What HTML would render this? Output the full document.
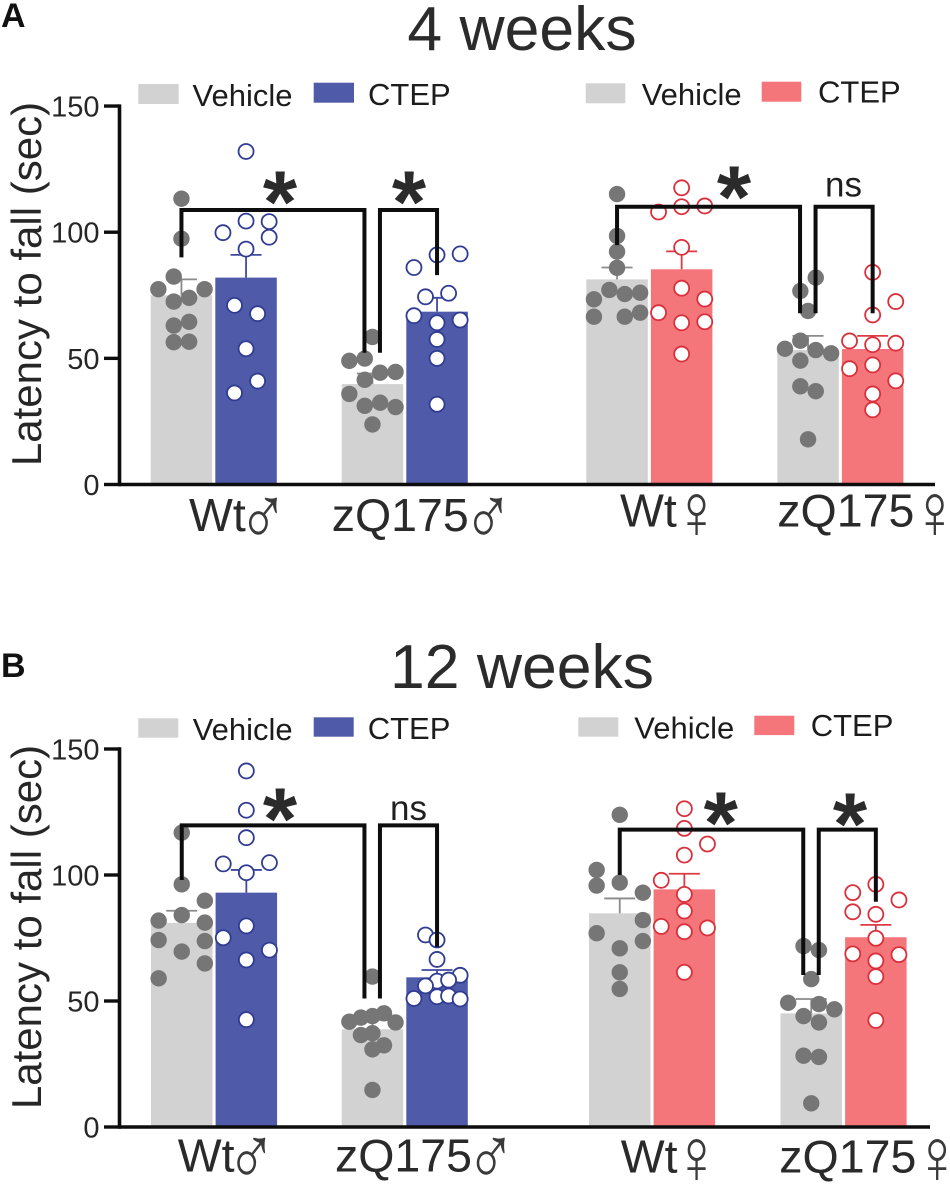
<!DOCTYPE html>
<html lang="en">
<head>
<meta charset="utf-8">
<title>Latency to fall at 4 and 12 weeks</title>
<style>
html,body{margin:0;padding:0;background:#fff;width:950px;height:1185px;overflow:hidden}
svg{display:block;filter:blur(0.35px)}
text{font-family:"Liberation Sans",Arial,sans-serif;fill:#262626}
.title{font-size:62.5px;text-anchor:middle;fill:#2b2b2b}
.legend{font-size:31px;fill:#1c1c1c}
.cat{font-size:46.5px;fill:#2a2a2a}
.sym{font-size:46px;fill:#3a3a3a}
.star{font-size:88px;font-weight:bold;text-anchor:middle;fill:#2b2b2b}
.ns{font-size:35px;fill:#1f1f1f}
.letter{font-size:34px;font-weight:bold;fill:#111}
.tick{font-size:29px;text-anchor:end;fill:#262626}
.ytitle{font-size:42px;text-anchor:middle;fill:#262626}
</style>
</head>
<body>
<svg id="figure" xmlns="http://www.w3.org/2000/svg" width="950" height="1185" viewBox="0 0 950 1185">
  <rect width="950" height="1185" fill="#fff"/>

  <g>
    <text class="letter" x="1" y="27">A</text>
    <text class="title" x="522" y="50">4 weeks</text>
    <text class="ytitle" transform="translate(41,284) rotate(-90)">Latency to fall (sec)</text>
    <rect x="138.3" y="84" width="40.4" height="20" fill="#d2d2d2"/>
    <text class="legend" x="192.5" y="106">Vehicle</text>
    <rect x="313.7" y="82.7" width="40.3" height="20" fill="#4f5aa9"/>
    <text class="legend" x="368" y="105">CTEP</text>
    <rect x="585.7" y="83.3" width="39.6" height="20" fill="#d2d2d2"/>
    <text class="legend" x="641.7" y="105">Vehicle</text>
    <rect x="761.7" y="81.7" width="39.6" height="20" fill="#f4757a"/>
    <text class="legend" x="818" y="102.7">CTEP</text>
    <text class="cat" x="189" y="531">Wt</text>
    <text class="sym" transform="translate(238,545) scale(1.45,1.83)">♂</text>
    <text class="cat" x="331.7" y="531">zQ175</text>
    <text class="sym" transform="translate(463,545) scale(1.45,1.83)">♂</text>
    <text class="cat" x="620" y="526.7">Wt</text>
    <text class="sym" transform="translate(672.7,538) scale(1.38,1.7)">♀</text>
    <text class="cat" x="777.3" y="526.7">zQ175</text>
    <text class="sym" transform="translate(911,538) scale(1.38,1.7)">♀</text>
  </g>

  <g>
    <text class="letter" x="1" y="677">B</text>
    <text class="title" x="522" y="688">12 weeks</text>
    <text class="ytitle" transform="translate(41,927) rotate(-90)">Latency to fall (sec)</text>
    <rect x="138.3" y="718.3" width="40" height="19.4" fill="#d2d2d2"/>
    <text class="legend" x="192.7" y="740">Vehicle</text>
    <rect x="313.7" y="717.3" width="40" height="19.4" fill="#4f5aa9"/>
    <text class="legend" x="367.7" y="739">CTEP</text>
    <rect x="578.3" y="717.3" width="40" height="19.4" fill="#d2d2d2"/>
    <text class="legend" x="634.3" y="738.3">Vehicle</text>
    <rect x="754.3" y="715.7" width="40" height="19.4" fill="#f4757a"/>
    <text class="legend" x="810.7" y="736">CTEP</text>
    <text class="cat" x="177.7" y="1171.7">Wt</text>
    <text class="sym" transform="translate(226.2,1185) scale(1.45,1.83)">♂</text>
    <text class="cat" x="335" y="1171.7">zQ175</text>
    <text class="sym" transform="translate(465.7,1185) scale(1.45,1.83)">♂</text>
    <text class="cat" x="620.7" y="1172.3">Wt</text>
    <text class="sym" transform="translate(672.7,1183) scale(1.38,1.7)">♀</text>
    <text class="cat" x="779.3" y="1172.3">zQ175</text>
    <text class="sym" transform="translate(913.4,1183) scale(1.38,1.7)">♀</text>
  </g>

  <g id="marks-a"></g>
  <g id="marks-b"></g>

  <g>
    <text class="star" x="280" y="232">*</text>
    <text class="star" x="409" y="232">*</text>
    <text class="star" x="734" y="227">*</text>
    <text class="ns" x="825" y="196.7">ns</text>
    <text class="star" x="280" y="849">*</text>
    <text class="ns" x="390" y="820">ns</text>
    <text class="star" x="720.7" y="853">*</text>
    <text class="star" x="850" y="854">*</text>
  </g>
</svg>

<script>
// ---- chart data ----
const seriesNames = ['vehicle', 'ctep'];
const barNames = ['wt-male-vehicle', 'wt-male-ctep', 'zq175-male-vehicle', 'zq175-male-ctep', 'wt-female-vehicle', 'wt-female-ctep', 'zq175-female-vehicle', 'zq175-female-ctep'];
const yTicks = [0, 50, 100, 150];
const yTickLabels = ['0', '50', '100', '150'];

const week4Means = [75, 82, 39.8, 68.5, 81.3, 85.3, 53.3, 53.7];
const week4ErrorTops = [81.3, 91, 44, 74, 86, 92.4, 58.9, 58.9];
const week4Points = [
  [113.3, 97.4, 82.4, 77.4, 77.4, 74, 72.5, 64.5, 63, 56.6, 56.4],
  [132, 104.4, 104.2, 99.8, 98, 93.3, 71, 67.7, 53.8, 41, 36.3],
  [58.5, 49, 49.9, 44.3, 44.6, 41.5, 35.9, 31.2, 32.4, 30.7, 23.8],
  [91, 91.4, 86, 74.4, 75.8, 66.9, 65.2, 64.1, 57.5, 50, 31.8],
  [115.1, 98.5, 92.3, 85.9, 77.1, 75.5, 76, 73.4, 66.5, 66.5, 68.1],
  [117.6, 110.1, 110.4, 108, 94, 77.8, 73.5, 68.1, 64.1, 64.5, 51.7],
  [82, 76.7, 68.8, 57, 53.8, 53.3, 52, 49.1, 38.9, 37, 17.9],
  [84.1, 72.5, 67.2, 56.9, 55.4, 56, 45.9, 47.4, 41.1, 35.9, 29.6]
];
// Beeswarm column index of each point (unitless, same order as the points).
const week4Swarm = [
  [0, 0, -1, -3, 3, 1, -1, 1, -1, 1, -1],
  [0, 0, 3, -3, 3, 0, -1.5, 1.5, 0, 1.5, -1.5],
  [0, -3, -1, 1, 3, -1, -3, -1, 1, 3, 0],
  [0, 3, -3, -1.5, 1.5, -3, 3, 0, 0, 0, 0],
  [0, 0, 0, 0, -1, 1, 3, -3, -3, 1, 3],
  [0, 0, 3, -3, 0, 0, 3, -3, 0, 3, 0],
  [1, -1, 0, -1, -3, 1, 3, -1, -1, 1, 0],
  [0, 3, 0, -3, 0, 3, -3, 0, 3, 0, 0]
];
// [from bar, to bar, bracket level, from-leg end, to-leg end] in axis units
const week4Brackets = [
  [0, 2, 108.8, 90, 52.2],
  [2, 3, 108.8, 52.2, 83],
  [4, 6, 110.1, 94.9, 67.9],
  [6, 7, 110.1, 67.9, 67.9]
];

const week12Means = [81, 93, 38.8, 59.4, 84.8, 94.3, 45.1, 75.3];
const week12ErrorTops = [85.8, 102, 42.5, 62.3, 90.7, 100.5, 50.8, 80.2];
const week12Points = [
  [116.8, 96.3, 89.8, 84.1, 81.9, 81.1, 74.2, 73.8, 69.6, 64.9, 59],
  [141.3, 125.7, 114.8, 104.4, 104.9, 100.9, 79.8, 75.1, 70.2, 66.3, 42.6],
  [59.7, 45.1, 44, 43.4, 41.8, 41.5, 37.2, 36.5, 32.4, 30.8, 14.7],
  [76.2, 74.2, 66.5, 60.2, 57.9, 58.3, 56, 51, 51.7, 52, 50.8],
  [123.9, 102, 95.8, 97, 93, 82.1, 76.9, 73.8, 70.9, 61.4, 54.8],
  [126.3, 118.5, 112.3, 107.9, 97.9, 92.3, 85.7, 79.6, 79, 77.5, 61.4],
  [71.8, 70.2, 58.7, 49.3, 48.8, 46.7, 44, 41.5, 28.3, 27.8, 9.4],
  [96.3, 93, 90.1, 85.4, 84.4, 74.9, 68.7, 68.4, 65.9, 59.7, 42.3]
];
const week12Swarm = [
  [0, 0, 3, 0, -3, 3, -3, 3, 0, 3, -3],
  [0, 0, 0, -3, 3, 0, 0, -3, 3, 0, 0],
  [0, 1.5, 0, -1.5, -3, 3, 0, -1.5, 1.5, 0, 0],
  [-1.5, 0, 0, 3, 0, 1.5, -1.5, -3, 0, 1.5, 3],
  [0, -3, -3, 0, 3, 3, -3, 3, 0, 0, 0],
  [0, 0, 3, 0, -3, 0, 0, -3, 3, 0, 0],
  [-1, 1, 0, -3, 1, 3, -1, 1, -1, 1, 0],
  [0, -3, 3, -3, 0, 0, -3, 3, 0, 0, 0]
];
const week12Brackets = [
  [0, 2, 119.7, 98, 51],
  [2, 3, 119.7, 51, 71.5],
  [4, 6, 118, 100, 60.3],
  [6, 7, 118, 60.3, 89.4]
];

// ---- drawing ----
const SVG_NS = 'http://www.w3.org/2000/svg';
const BAR_WIDTH = 61.5, BAR_STEP = 64.6, SWARM_UNIT = 7.7, POINT_R = 8.2;
const INK = '#0d0d0d';

function make(parent, tag, attrs) {
  const el = document.createElementNS(SVG_NS, tag);
  for (const k in attrs) el.setAttribute(k, attrs[k]);
  parent.appendChild(el);
  return el;
}

function drawPanel(cfg) {
  const g = document.getElementById(cfg.target);
  const y = v => cfg.yZero - v * cfg.yScale;
  const barLeft = i => cfg.groupLefts[Math.floor(i / 2)] + (i % 2) * BAR_STEP;
  const barCenter = i => barLeft(i) + BAR_WIDTH / 2;
  const fills = [['#d2d2d2', '#d2d2d2'], ['#4f5aa9', '#f4757a']];
  const strokes = [['#8a8a8a', '#8a8a8a'], ['#3f4a9e', '#de3a44']];
  const rings = ['#2f3c92', '#d9303b'];

  cfg.means.forEach((m, i) => {
    const s = i % 2, side = i < 4 ? 0 : 1;
    const bar = make(g, 'rect', {x: barLeft(i), y: y(m), width: BAR_WIDTH, height: y(0) - y(m), fill: fills[s][side]});
    
    
  });

  cfg.errorTops.forEach((t, i) => {
    const s = i % 2, side = i < 4 ? 0 : 1, cx = barCenter(i);
    const err = make(g, 'path', {
      d: 'M' + cx + ' ' + y(cfg.means[i]) + 'V' + y(t) + 'M' + (cx - 15.5) + ' ' + y(t) + 'H' + (cx + 15.5),
      fill: 'none', stroke: strokes[s][side], 'stroke-width': 1.8
    });
    
    
  });

  cfg.points.forEach((vals, i) => {
    const s = i % 2, side = i < 4 ? 0 : 1;
    vals.forEach((v, j) => {
      const cx = barCenter(i) + cfg.swarm[i][j] * SWARM_UNIT;
      const attrs = s === 0
        ? {cx: cx, cy: y(v), r: POINT_R, fill: '#767676'}
        : {cx: cx, cy: y(v), r: POINT_R - 0.7, fill: '#ffffff', stroke: rings[side], 'stroke-width': 1.8};
      const pt = make(g, 'circle', attrs);
      
      
    });
  });

  cfg.brackets.forEach((b, i) => {
    const x1 = barCenter(b[0]) + (i % 2 ? 7.5 : 0);
    const x2 = barCenter(b[1]) - (i % 2 ? 0 : 8);
    const br = make(g, 'path', {
      d: 'M' + x1 + ' ' + y(b[3]) + 'V' + y(b[2]) + 'H' + x2 + 'V' + y(b[4]),
      fill: 'none', stroke: INK, 'stroke-width': 4, 'stroke-linejoin': 'miter'
    });
    
    
  });

  const yAxis = make(g, 'line', {x1: cfg.axisX, x2: cfg.axisX, y1: y(150) - 1.7, y2: y(0) + 1.7, stroke: INK, 'stroke-width': 3.6});
  
  

  const xAxis = make(g, 'line', {x1: cfg.axisX, x2: cfg.axisEnd, y1: y(0), y2: y(0), stroke: INK, 'stroke-width': 3.6});
  
  

  yTicks.forEach((t, i) => {
    const tick = make(g, 'line', {x1: cfg.axisX - 15.5, x2: cfg.axisX, y1: y(t), y2: y(t), stroke: INK, 'stroke-width': 3.4});
    
    
    const label = make(g, 'text', {x: 99.5, y: y(t) + 10.5, class: 'tick'});
    
    
    label.textContent = yTickLabels[i];
  });
}

drawPanel({
  id: 'a', target: 'marks-a', yZero: 484.5, yScale: 2.523, axisX: 119.5, axisEnd: 935,
  groupLefts: [150.7, 341.7, 586.3, 777.3],
  means: week4Means, errorTops: week4ErrorTops, points: week4Points, swarm: week4Swarm, brackets: week4Brackets
});
drawPanel({
  id: 'b', target: 'marks-b', yZero: 1127, yScale: 2.52, axisX: 119.5, axisEnd: 930,
  groupLefts: [151, 341.7, 589, 780.5],
  means: week12Means, errorTops: week12ErrorTops, points: week12Points, swarm: week12Swarm, brackets: week12Brackets
});
</script>
</body>
</html>
